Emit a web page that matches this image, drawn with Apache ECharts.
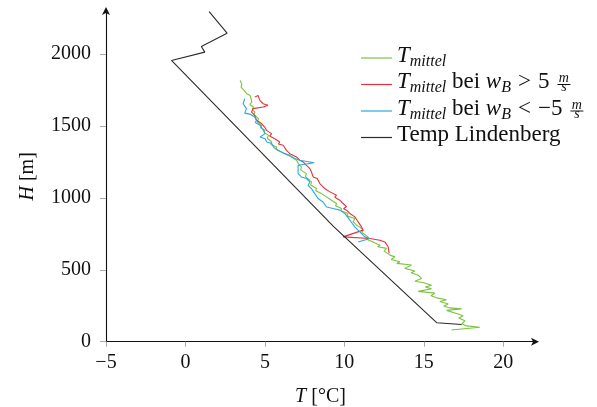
<!DOCTYPE html>
<html>
<head>
<meta charset="utf-8">
<script src="https://cdn.jsdelivr.net/npm/echarts@6/dist/echarts.min.js"></script>
<style>
  html, body { margin: 0; padding: 0; background: #fff; }
  #chart { width: 597px; height: 407px; }
</style>
</head>
<body>
<div id="chart"></div>
<script>
// Axis ticks
const xTicks = [-5, 0, 5, 10, 15, 20];
const yTicks = [0, 500, 1000, 1500, 2000];

// Profiles as [T in °C, H in m]
const tMittel = [
  [3.44,1817],[3.55,1790],[3.50,1770],[3.69,1748],[3.62,1735],[3.86,1725],[4.07,1713],[3.95,1700],
  [4.18,1667],[4.05,1650],[4.28,1632],[4.20,1615],[4.38,1597],[4.30,1580],[4.60,1551],[4.52,1530],
  [4.80,1505],[4.72,1490],[5.01,1470],[4.95,1455],[5.23,1435],[5.15,1415],[5.43,1389],[5.38,1372],
  [5.75,1354],[5.70,1340],[6.06,1319],[6.30,1305],[6.67,1285],[6.60,1275],[6.99,1262],[7.10,1240],
  [7.30,1215],[7.25,1195],[7.62,1169],[7.55,1150],[7.93,1111],[7.88,1090],[8.25,1065],[8.20,1050],
  [8.56,1030],[8.50,1018],[8.88,1007],[9.19,984],[9.10,972],[9.51,961],[9.45,945],[9.82,926],
  [9.80,910],[10.24,892],[10.15,875],[10.66,857],[10.55,835],[10.77,810],[11.00,795],[11.18,776],
  [11.10,760],[11.50,729],[11.40,712],[11.81,694],[12.24,671],[12.10,660],[12.66,649],[12.50,630],
  [12.87,602],[13.18,590],[12.95,572],[13.50,556],[13.30,545],[14.23,533],[13.81,510],[14.44,492],
  [14.20,480],[14.65,462],[14.86,440],[14.44,420],[15.00,410],[15.49,392],[15.10,380],[15.49,368],
  [14.65,350],[15.70,338],[15.45,320],[15.81,305],[16.43,292],[16.01,280],[16.54,262],[16.25,248],
  [16.64,235],[17.38,228],[16.43,218],[16.96,200],[17.48,180],[17.20,165],[17.59,145],[17.40,125],
  [17.69,110],[18.53,100],[17.69,92],[16.75,81]
];
const tMittelPos = [
  [4.36,1701],[4.57,1713],[4.68,1678],[4.89,1655],[5.20,1644],[4.89,1632],[4.26,1621],[4.16,1597],
  [4.36,1574],[4.47,1540],[4.79,1517],[4.99,1493],[5.10,1470],[5.42,1447],[5.30,1430],[5.62,1412],
  [5.94,1389],[5.85,1375],[6.15,1366],[6.36,1331],[6.57,1308],[6.99,1285],[7.20,1262],[7.41,1250],
  [7.62,1227],[7.83,1204],[7.75,1192],[7.93,1180],[8.04,1146],[8.30,1135],[8.25,1123],[8.46,1100],
  [8.77,1065],[8.70,1055],[9.09,1042],[9.00,1030],[9.51,1019],[9.40,1005],[9.72,984],[9.60,975],
  [9.92,961],[9.80,950],[10.14,940],[9.95,925],[10.14,915],[10.35,892],[10.25,880],[10.66,868],
  [10.87,833],[11.08,799],[11.18,776],[9.92,729],[11.61,718],[12.24,706],[12.55,694],[12.76,660],
  [12.82,614]
];
const tMittelNeg = [
  [3.73,1690],[3.63,1655],[3.84,1621],[3.73,1590],[4.05,1583],[4.36,1563],[4.47,1540],[4.40,1525],
  [4.70,1505],[4.91,1470],[4.80,1458],[5.01,1447],[4.70,1424],[5.01,1412],[5.12,1389],[5.43,1378],
  [5.54,1354],[5.80,1331],[6.25,1308],[6.57,1296],[6.88,1274],[7.20,1262],[8.10,1245],[7.09,1227],
  [7.09,1169],[7.30,1146],[7.62,1135],[7.83,1111],[7.72,1088],[7.93,1065],[8.14,1030],[8.35,996],
  [8.66,972],[8.88,937],[9.29,926],[9.72,915],[10.03,892],[10.35,845],[10.66,799],[10.97,764],
  [11.29,729],[11.61,718],[10.87,694]
];
const tempLindenberg = [
  [1.49,2296],[2.62,2146],[1.00,2053],[1.22,2014],[-0.88,1956],[9.33,801],[15.81,132],[17.38,120]
];

const seriesNames = ['T_mittel', 'T_mittel, w_B > 5 m/s', 'T_mittel, w_B < -5 m/s', 'Temp Lindenberg'];
const seriesColors = ['#7cc242', '#e8303a', '#27a9e1', '#2b2b2b'];

// width of the m/s fraction glyphs, to stack them over a bar
const FRAC_SIZE = 14;
const FRAC_FONT = 'italic ' + FRAC_SIZE + 'px "Liberation Serif"';
function textWidth(s) {
  const c = document.createElement('canvas').getContext('2d');
  c.font = FRAC_FONT;
  return c.measureText(s).width;
}
const mw = textWidth('m'), sw = textWidth('s');
const W = Math.ceil(mw) + 2;

const fracStr = '{g| }{fb| }{fm|m}{fs|s}';
const legendText = {};
legendText[seriesNames[0]] = '{T|T}{sub|mittel}';
legendText[seriesNames[1]] = '{T|T}{sub|mittel}{up| bei }{T|w}{sub|B}{sp| }{up|>}{sp| }{up|5}' + fracStr;
legendText[seriesNames[2]] = '{T|T}{sub|mittel}{up| bei }{T|w}{sub|B}{sp| }{up|<}{sp| }{up|\u22125}' + fracStr;
legendText[seriesNames[3]] = '{up|Temp Lindenberg}';

const LH = 24;
const richLegend = {
  T:   { fontStyle: 'italic', fontSize: 23, lineHeight: LH, padding: [0, 0, 5, 0] },
  up:  { fontStyle: 'normal', fontSize: 23, lineHeight: LH, padding: [0, 0, 5, 0] },
  sub: { fontStyle: 'italic', fontSize: 16, lineHeight: LH, padding: [7, 0, 0, 0] },
  sp:  { width: 7, lineHeight: LH, fontSize: 13 },
  g:   { width: 8, lineHeight: LH, fontSize: 13 },
  fb:  { width: W, height: 1, backgroundColor: '#111', lineHeight: LH, fontSize: 13 },
  fm:  { fontStyle: 'italic', fontSize: FRAC_SIZE, lineHeight: LH,
         padding: [0, -(sw + mw) / 2, 12, -(W + mw) / 2] },
  fs:  { fontStyle: 'italic', fontSize: FRAC_SIZE, lineHeight: LH,
         padding: [6, (W - sw) / 2 + 1, 0, 0] }
};

const datasets = [tMittel, tMittelPos, tMittelNeg, tempLindenberg];

const axisFont = { fontFamily: 'Liberation Serif', fontSize: 20, color: '#111' };
const fmtNum = v => (v < 0 ? '\u2212' + Math.abs(v) : String(v));

const chart = echarts.init(document.getElementById('chart'), null, { renderer: 'canvas' });
chart.setOption({
  animation: false,
  backgroundColor: '#fff',
  grid: { left: 106, right: 62, top: 11, bottom: 65.3, containLabel: false, outerBoundsMode: 'none' },
  legend: {
    orient: 'vertical',
    left: 361,
    top: 44,
    padding: 0,
    itemGap: -1.5,
    itemWidth: 31,
    itemHeight: 1.2,
    icon: 'rect',
    data: seriesNames,
    formatter: name => legendText[name],
    textStyle: {
      fontFamily: 'Liberation Serif', fontSize: 23, color: '#111', lineHeight: LH,
      rich: richLegend
    }
  },
  xAxis: {
    type: 'value',
    min: -5, max: 22, interval: 5,
    name: '{i|T} [°C]',
    nameLocation: 'middle',
    nameGap: 45,
    nameTextStyle: Object.assign({}, axisFont, { rich: { i: { fontStyle: 'italic', fontSize: 20 } } }),
    axisLine: { onZero: false, lineStyle: { color: '#111', width: 1.1 },
                symbol: ['none', 'arrow'], symbolSize: [6, 8], symbolOffset: [0, 4] },
    axisTick: { show: true, length: 5, customValues: xTicks, lineStyle: { color: '#aaa', width: 1 } },
    axisLabel: Object.assign({}, axisFont, { margin: 11, customValues: xTicks, formatter: fmtNum }),
    splitLine: { show: false }
  },
  yAxis: {
    type: 'value',
    min: 0, max: 2300, interval: 500,
    name: '{i|H} [m]',
    nameLocation: 'middle',
    nameGap: 68,
    nameTextStyle: Object.assign({}, axisFont, { rich: { i: { fontStyle: 'italic', fontSize: 20 } } }),
    axisLine: { onZero: false, lineStyle: { color: '#111', width: 1.1 },
                symbol: ['none', 'arrow'], symbolSize: [6, 8], symbolOffset: [0, 4] },
    axisTick: { show: true, length: 6, customValues: yTicks, lineStyle: { color: '#aaa', width: 1 } },
    axisLabel: Object.assign({}, axisFont, { margin: 15, customValues: yTicks, formatter: fmtNum }),
    splitLine: { show: false }
  },
  series: seriesNames.map((n, i) => ({
    name: n,
    type: 'line',
    data: datasets[i],
    symbol: 'none',
    color: seriesColors[i],
    lineStyle: { width: 1.1, color: seriesColors[i] },
    clip: false
  }))
});
</script>
</body>
</html>
